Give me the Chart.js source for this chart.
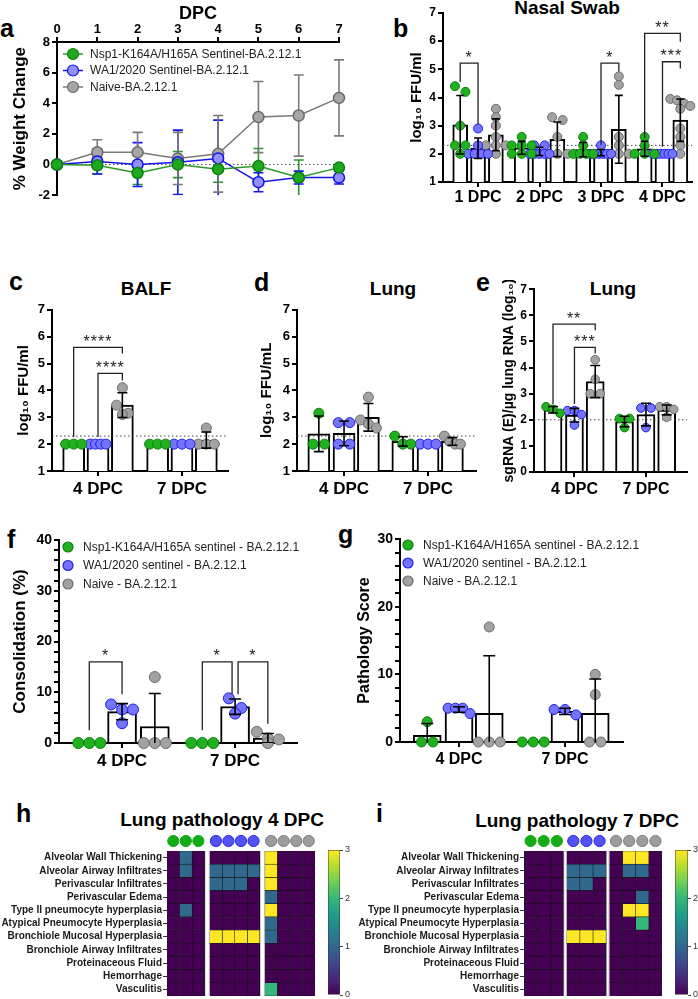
<!DOCTYPE html>
<html>
<head>
<meta charset="utf-8">
<script src="https://cdn.jsdelivr.net/npm/chart.js@4.4.1/dist/chart.umd.min.js"></script>
<style>
  body { margin: 0; background: #fff; width: 698px; height: 999px; position: relative; overflow: hidden;
         font-family: "Liberation Sans", Arial, Helvetica, sans-serif; }
  canvas { position: absolute; }
  .lab { position: absolute; font-weight: bold; font-size: 25px; line-height: 1; color: #000; }
  .ttl { position: absolute; font-weight: bold; font-size: 19px; line-height: 1; color: #000;
         white-space: nowrap; transform: translateX(-50%); }
</style>
</head>
<body>
<div class="lab" style="left:0px;top:16px">a</div>
<div class="lab" style="left:393px;top:16px">b</div>
<div class="lab" style="left:9px;top:269px">c</div>
<div class="lab" style="left:254px;top:270px">d</div>
<div class="lab" style="left:476px;top:270px">e</div>
<div class="lab" style="left:7px;top:527px">f</div>
<div class="lab" style="left:338px;top:522px">g</div>
<div class="lab" style="left:16px;top:801px">h</div>
<div class="lab" style="left:376px;top:801px">i</div>
<div class="ttl" style="left:567px;top:-2px">Nasal Swab</div>
<div class="ttl" style="left:146px;top:279px">BALF</div>
<div class="ttl" style="left:393px;top:279px">Lung</div>
<div class="ttl" style="left:613px;top:279px">Lung</div>
<div class="ttl" style="left:222px;top:810px">Lung pathology 4 DPC</div>
<div class="ttl" style="left:577px;top:811px">Lung pathology 7 DPC</div>

<script>
// ---- data ----

// a: % weight change, mean and SD per day
const dpcDays = [0, 1, 2, 3, 4, 5, 6, 7];
const weightNsp1 = [0, -0.05, -0.55, 0, -0.3, -0.1, -0.85, -0.2];
const weightNsp1Sd = [0, 0.55, 0.75, 0.85, 0.85, 1.15, 1.15, 0];
const weightWA1 = [0, 0.2, 0.0, 0.15, 0.4, -1.15, -0.85, -0.85];
const weightWA1Sd = [0, 0.82, 1.43, 2.1, 2.5, 0.62, 0.42, 0.42];
const weightNaive = [0, 0.8, 0.8, 0.4, 0.7, 3.1, 3.2, 4.35];
const weightNaiveSd = [0, 0.82, 1.3, 1.7, 2.5, 2.32, 2.65, 2.48];
const namesA = ['Nsp1-K164A/H165A Sentinel-BA.2.12.1', 'WA1/2020 Sentinel-BA.2.12.1', 'Naive-BA.2.12.1'];
const namesFG = ['Nsp1-K164A/H165A sentinel - BA.2.12.1', 'WA1/2020 sentinel - BA.2.12.1', 'Naive - BA.2.12.1'];

// b: nasal swab, log10 FFU/ml, per animal
const nasalLabels = ['1 DPC', '2 DPC', '3 DPC', '4 DPC'];
const nasalNsp1 = [[4.2, 4.4, 3.0, 2.3, 2.3, 2.0], [2.6, 2.3, 2.3, 2.3, 2.0, 2.0, 2.0], [2.6, 2.3, 2.0, 2.0, 2.0, 2.0], [2.6, 2.3, 2.0, 2.0, 2.0]];
const nasalWA1 = [[2.9, 2.3, 2.0, 2.0, 2.0, 2.0], [2.3, 2.3, 2.0, 2.0, 2.0, 2.0, 2.0], [2.3, 2.0, 2.0, 2.0, 2.0, 2.0, 2.0], [2.0, 2.0, 2.0, 2.0, 2.0, 2.0]];
const nasalNaive = [[3.6, 3.3, 3.0, 2.6, 2.3, 2.3, 2.3, 2.0], [3.3, 3.2, 2.6, 2.0, 2.0, 2.0], [4.75, 4.45, 2.6, 2.3, 2.0, 2.0, 2.0], [3.95, 3.9, 3.8, 3.7, 3.6, 2.9, 2.6, 2.3, 2.0]];
const nasalLimit = 2.3;

// c, d, e: 4 and 7 DPC
const dpcLabels = ['4 DPC', '7 DPC'];
const balfNsp1 = [[2, 2, 2], [2, 2, 2]];
const balfWA1 = [[2, 2, 2, 2], [2, 2, 2]];
const balfNaive = [[4.1, 3.45, 3.1, 3.15], [2.6, 2.0, 2.0, 2.0]];
const lungNsp1 = [[3.15, 2, 2], [2.3, 2, 2]];
const lungWA1 = [[2.8, 2.8, 2, 2], [2, 2, 2]];
const lungNaive = [[3.75, 2.9, 2.6, 2.75], [2.3, 2.1, 2, 2]];
const sgNsp1 = [[2.25, 2.5, 2.4], [2.05, 2.05, 1.7]];
const sgWA1 = [[2.35, 2.35, 2.2, 1.8], [2.45, 2.45, 1.7]];
const sgNaive = [[4.3, 3.55, 3.0, 3.0], [2.5, 2.5, 2.4, 2.1]];

// f, g
const consNsp1 = [[0, 0, 0], [0, 0, 0]];
const consWA1 = [[7.6, 6.6, 6.6, 3.9], [8.8, 6.9, 5.8]];
const consNaive = [[13, 0, 0, 0], [2.2, 0.9, 0.7, 0]];
const pathNsp1 = [[3, 0, 0], [0, 0, 0]];
const pathWA1 = [[4.2, 5, 5, 5], [4, 4.8, 4.8]];
const pathNaive = [[17, 0, 0, 0], [10, 7, 0, 0]];

// significance brackets (group, from series, to series, bracket top, leg ends)
const nasalSig = [
  { g: 1, from: 0, to: 1, top: 5.22, y1: 4.55, y2: 3.05, text: '*' },
  { g: 3, from: 1, to: 2, top: 5.22, y1: 2.32, y2: 4.92, text: '*' },
  { g: 4, from: 0, to: 2, top: 6.28, y1: 2.55, y2: 5.98, text: '**' },
  { g: 4, from: 1, to: 2, top: 5.27, y1: 2.25, y2: 5.03, text: '***' }
];
const balfSig = [
  { g: 1, from: 0, to: 2, top: 5.6, y1: 2.27, y2: 5.37, text: '****' },
  { g: 1, from: 1, to: 2, top: 4.63, y1: 2.27, y2: 4.37, text: '****' }
];
const sgSig = [
  { g: 1, from: 0, to: 2, top: 5.66, y1: 2.6, y2: 5.43, text: '**' },
  { g: 1, from: 1, to: 2, top: 4.77, y1: 2.6, y2: 4.54, text: '***' }
];
const consSig = [
  { g: 1, from: 0, to: 1, top: 16, y1: 2.5, y2: 9.6, text: '*' },
  { g: 2, from: 0, to: 1, top: 16, y1: 2.5, y2: 9.6, text: '*', dx2: -3 },
  { g: 2, from: 1, to: 2, top: 16, y1: 9.6, y2: 3.8, text: '*', dx1: 3 }
];

// h, i: pathology scores (rows x animals)
const pathRows = ['Alveolar Wall Thickening', 'Alveolar Airway Infiltrates', 'Perivascular Infiltrates',
  'Perivascular Edema', 'Type II pneumocyte hyperplasia', 'Atypical Pneumocyte Hyperplasia',
  'Bronchiole Mucosal Hyperplasia', 'Bronchiole Airway Infiltrates', 'Proteinaceous Fluid', 'Hemorrhage', 'Vasculitis'];
const groupsH = [3, 4, 4];
const scoresH = [
  [0, 1, 0, 0, 0, 0, 0, 3, 0, 0, 0],
  [0, 1, 0, 1, 1, 1, 1, 3, 0, 0, 0],
  [0, 0, 0, 1, 1, 1, 0, 3, 0, 0, 0],
  [0, 0, 0, 0, 0, 0, 0, 1, 0, 0, 0],
  [0, 1, 0, 0, 0, 0, 0, 3, 0, 0, 0],
  [0, 0, 0, 0, 0, 0, 0, 1, 0, 0, 0],
  [0, 0, 0, 3, 3, 3, 3, 1, 0, 0, 0],
  [0, 0, 0, 0, 0, 0, 0, 0, 0, 0, 0],
  [0, 0, 0, 0, 0, 0, 0, 0, 0, 0, 0],
  [0, 0, 0, 0, 0, 0, 0, 0, 0, 0, 0],
  [0, 0, 0, 0, 0, 0, 0, 2, 0, 0, 0]
];
const groupsI = [3, 3, 4];
const scoresI = [
  [0, 0, 0, 0, 0, 0, 0, 3, 3, 0],
  [0, 0, 0, 1, 1, 1, 0, 1, 1, 0],
  [0, 0, 0, 1, 1, 0, 0, 0, 0, 0],
  [0, 0, 0, 0, 0, 0, 0, 0, 1, 0],
  [0, 0, 0, 0, 0, 0, 0, 3, 3, 0],
  [0, 0, 0, 0, 0, 0, 0, 0, 2, 0],
  [0, 0, 0, 3, 3, 3, 0, 0, 0, 0],
  [0, 0, 0, 0, 0, 0, 0, 0, 0, 0],
  [0, 0, 0, 0, 0, 0, 0, 0, 0, 0],
  [0, 0, 0, 0, 0, 0, 0, 0, 0, 0],
  [0, 0, 0, 0, 0, 0, 0, 0, 0, 0]
];
const scoreTicks = [0, 1, 2, 3];

// ---- styles ----
const FONT = '"Liberation Sans", Arial, Helvetica, sans-serif';
Chart.defaults.font.family = FONT;
Chart.defaults.color = '#000';
Chart.defaults.animation = false;
Chart.defaults.responsive = false;
Chart.defaults.plugins.legend.display = false;
Chart.defaults.plugins.tooltip.enabled = false;

const dotStyle = [
  { fill: '#20b020', stroke: '#0c820c' },
  { fill: '#7474ff', stroke: '#2020e6' },
  { fill: '#a2a2a2', stroke: '#6c6c6c' }
];
const lineStyle = [
  { line: '#2a982a', fill: '#1ea81e', stroke: '#0f7f0f' },
  { line: '#1414f0', fill: '#9090ff', stroke: '#1010ee' },
  { line: '#7a7a7a', fill: '#a6a6a6', stroke: '#6a6a6a' }
];
const viridisStops = ['#440154', '#482878', '#3e4989', '#31688e', '#26828e', '#1f9e89', '#35b779', '#6ece58', '#b5de2b', '#fde725'];

function hexRgb(h) { return [1, 3, 5].map(i => parseInt(h.slice(i, i + 2), 16)); }
function viridis(t) {
  const p = Math.max(0, Math.min(1, t)) * (viridisStops.length - 1);
  const i = Math.min(Math.floor(p), viridisStops.length - 2), f = p - i;
  const a = hexRgb(viridisStops[i]), b = hexRgb(viridisStops[i + 1]);
  return 'rgb(' + a.map((v, k) => Math.round(v + (b[k] - v) * f)).join(',') + ')';
}

const mean = a => a.reduce((s, v) => s + v, 0) / a.length;
const sdev = a => { const m = mean(a); return Math.sqrt(a.reduce((s, v) => s + (v - m) ** 2, 0) / (a.length - 1)); };

// ---- plugins ----
function drawErrors(chart) {
  const ys = chart.scales.y, ctx = chart.ctx, a = chart.chartArea;
  ctx.save();
  ctx.beginPath();
  ctx.rect(a.left - 10, a.top - 30, a.right - a.left + 20, a.bottom - a.top + 30);
  ctx.clip();
  chart.data.datasets.forEach((ds, i) => {
    if (!ds.errors) return;
    const meta = chart.getDatasetMeta(i);
    ctx.strokeStyle = ds.errorColor || '#000';
    ctx.lineWidth = 1.6;
    meta.data.forEach((el, j) => {
      const e = ds.errors[j];
      if (!e) return;
      const v = ds.data[j].y, w = ds.capWidth || 4;
      const t = ys.getPixelForValue(v + e), b = Math.min(ys.getPixelForValue(v - e), a.bottom);
      ctx.beginPath();
      ctx.moveTo(el.x, t); ctx.lineTo(el.x, b);
      ctx.moveTo(el.x - w, t); ctx.lineTo(el.x + w, t);
      if (b < a.bottom) { ctx.moveTo(el.x - w, b); ctx.lineTo(el.x + w, b); }
      ctx.stroke();
    });
  });
  ctx.restore();
}
Chart.register({
  id: 'errorBars',
  beforeDatasetsDraw(chart, args, opts) { if (opts.under) drawErrors(chart); },
  afterDatasetsDraw(chart, args, opts) { if (!opts.under) drawErrors(chart); }
});

function drawRef(chart, value) {
  const y = chart.scales.y.getPixelForValue(value), a = chart.chartArea, ctx = chart.ctx;
  ctx.save();
  ctx.strokeStyle = '#444'; ctx.lineWidth = 1; ctx.setLineDash([1.5, 2.5]);
  ctx.beginPath(); ctx.moveTo(a.left, y); ctx.lineTo(a.right, y); ctx.stroke();
  ctx.restore();
}
Chart.register({
  id: 'refLine',
  beforeDatasetsDraw(chart, args, opts) {
    if (opts.value !== undefined && opts.afterIndex === undefined) drawRef(chart, opts.value);
  },
  afterDatasetDraw(chart, args, opts) {
    if (opts.value !== undefined && args.index === opts.afterIndex) drawRef(chart, opts.value);
  }
});

Chart.register({
  id: 'brackets',
  afterDatasetsDraw(chart, args, opts) {
    if (!opts.items || !opts.items.length) return;
    const xs = chart.scales.x, ys = chart.scales.y, ctx = chart.ctx, sh = opts.shifts;
    ctx.save();
    ctx.strokeStyle = '#222'; ctx.fillStyle = '#222'; ctx.lineWidth = 1.3;
    ctx.font = '16px ' + FONT; ctx.textAlign = 'center'; ctx.textBaseline = 'middle';
    ctx.letterSpacing = '1px';
    opts.items.forEach(b => {
      const x1 = xs.getPixelForValue(b.g + sh[b.from]) + (b.dx1 || 0);
      const x2 = xs.getPixelForValue(b.g + sh[b.to]) + (b.dx2 || 0);
      const top = ys.getPixelForValue(b.top);
      ctx.beginPath();
      ctx.moveTo(x1, ys.getPixelForValue(b.y1)); ctx.lineTo(x1, top);
      ctx.lineTo(x2, top); ctx.lineTo(x2, ys.getPixelForValue(b.y2));
      ctx.stroke();
      ctx.fillText(b.text, (x1 + x2) / 2, top - 5);
    });
    ctx.restore();
  }
});

Chart.register({
  id: 'dotLegend',
  afterDraw(chart, args, opts) {
    if (!opts.items || !opts.items.length) return;
    const a = chart.chartArea, ctx = chart.ctx;
    ctx.save();
    ctx.font = opts.size + 'px ' + FONT; ctx.textBaseline = 'middle'; ctx.textAlign = 'left';
    opts.items.forEach((it, k) => {
      const cx = a.left + opts.x, cy = a.top + opts.y + k * opts.dy;
      if (opts.line) {
        ctx.strokeStyle = it.line; ctx.lineWidth = 1.5;
        ctx.beginPath(); ctx.moveTo(cx - 10, cy); ctx.lineTo(cx + 10, cy); ctx.stroke();
      }
      ctx.beginPath(); ctx.arc(cx, cy, opts.r, 0, Math.PI * 2);
      ctx.fillStyle = it.fill; ctx.fill();
      ctx.strokeStyle = it.stroke; ctx.lineWidth = 1.2; ctx.stroke();
      ctx.fillStyle = '#222';
      ctx.fillText(it.text, a.left + opts.textX, cy + 0.5);
    });
    ctx.restore();
  }
});

Chart.register({
  id: 'colDots',
  afterDraw(chart) {
    const ctx = chart.ctx;
    chart.data.datasets.forEach((ds, i) => {
      if (!ds.dot) return;
      const el = chart.getDatasetMeta(i).data[0];
      const cx = (el.x + el.base) / 2, cy = chart.chartArea.top - 10;
      ctx.beginPath(); ctx.arc(cx, cy, 5.6, 0, Math.PI * 2);
      ctx.fillStyle = ds.dot.fill; ctx.fill();
      ctx.strokeStyle = ds.dot.stroke; ctx.lineWidth = 1; ctx.stroke();
    });
  }
});

// ---- helpers ----
function mk(left, top, w, h) {
  const c = document.createElement('canvas');
  c.width = w; c.height = h;
  c.style.left = left + 'px'; c.style.top = top + 'px';
  c.style.width = w + 'px'; c.style.height = h + 'px';
  document.body.appendChild(c);
  return c;
}

function axisBase() {
  return {
    grid: { drawOnChartArea: false, color: '#000', lineWidth: 2, tickLength: 5, offset: false },
    border: { color: '#000', width: 2 }
  };
}

// spread points sharing a height into a centred row
function swarm(chart) {
  const xs = chart.scales.x, ys = chart.scales.y;
  const unit = xs.getPixelForValue(1) - xs.getPixelForValue(0);
  chart.data.datasets.forEach(ds => {
    if (!ds.values) return;
    const d = ds.pointRadius * 2 + 1.5;
    const pts = [];
    ds.values.forEach((vals, gi) => {
      const cx = gi + 1 + ds.shift;
      const rows = [];
      [...vals].sort((p, q) => q - p).forEach(v => {
        const row = rows[rows.length - 1];
        if (row && Math.abs(ys.getPixelForValue(row[0]) - ys.getPixelForValue(v)) < d * 0.8) row.push(v);
        else rows.push([v]);
      });
      rows.forEach(row => {
        const step = row.length > 1 ? Math.min(d, ds.spread / (row.length - 1)) : 0;
        row.forEach((v, k) => pts.push({ x: cx + (k - (row.length - 1) / 2) * step / unit, y: v }));
      });
    });
    ds.data = pts;
  });
  chart.update('none');
}

function barPanel(canvas, p) {
  const datasets = [];
  p.series.forEach((vals, si) => {
    datasets.push({
      type: 'bar',
      data: vals.map((v, gi) => ({ x: gi + 1 + p.shifts[si], y: mean(v) })),
      errors: vals.map(sdev), capWidth: p.cap,
      backgroundColor: '#fff', borderColor: '#000', borderWidth: 2,
      barThickness: p.barPx, grouped: false, order: 1
    });
  });
  p.series.forEach((vals, si) => {
    datasets.push({
      type: 'scatter',
      values: vals, shift: p.shifts[si], spread: p.spread,
      data: vals.flatMap((v, gi) => v.map(y => ({ x: gi + 1 + p.shifts[si], y }))),
      backgroundColor: dotStyle[si].fill, borderColor: dotStyle[si].stroke,
      pointRadius: p.r, pointBorderWidth: 1, order: 0, clip: false
    });
  });
  const xAxis = axisBase(), yAxis = axisBase();
  Object.assign(xAxis, {
    type: 'linear', offset: false, min: p.xMin, max: p.xMax,
    afterFit: s => { s.height = p.xH; },
    afterBuildTicks: s => { s.ticks = p.groups.map((g, i) => ({ value: i + 1 })); },
    ticks: { autoSkip: false, maxRotation: 0, padding: p.xPad, font: { size: p.xFont, weight: 'bold' },
             callback: v => p.groups[v - 1] }
  });
  Object.assign(yAxis, {
    min: p.yMin, max: p.yMax,
    afterFit: s => { s.width = p.yW; },
    ticks: { stepSize: p.step, autoSkip: false, maxTicksLimit: 60, padding: 2,
             font: { size: p.yFont, weight: 'bold' },
             callback: p.major ? (v => (v % p.major === 0 ? v : '')) : (v => v) },
    title: { display: true, text: p.yTitle, font: { size: p.tFont, weight: 'bold' }, padding: { top: p.tPad, bottom: 0 } }
  });
  const chart = new Chart(canvas, {
    type: 'bar',
    data: { datasets },
    options: {
      layout: { padding: p.pad, autoPadding: false },
      scales: { x: xAxis, y: yAxis },
      plugins: {
        errorBars: {},
        brackets: { items: p.sig || [], shifts: p.shifts },
        refLine: p.limit !== undefined ? { value: p.limit, afterIndex: 0 } : {},
        dotLegend: p.legend || {}
      }
    }
  });
  swarm(chart);
  return chart;
}

function heatPanel(canvas, scores, groups, gap, p) {
  const groupDot = [
    { fill: '#14ac14', stroke: '#14ac14' },
    { fill: '#5252f6', stroke: '#2a2ae0' },
    { fill: '#9c9c9c', stroke: '#7c7c7c' }
  ];
  const datasets = [];
  let col = 0;
  groups.forEach((n, gi) => {
    if (gi > 0) {
      datasets.push({
        data: pathRows.map(() => gap), backgroundColor: '#fff', borderColor: '#b8b8b8',
        borderWidth: { left: 1.2, right: 1.2, top: 0, bottom: 0 }, borderSkipped: false
      });
    }
    for (let k = 0; k < n; k++, col++) {
      const c = col;
      datasets.push({
        data: pathRows.map(() => 1),
        backgroundColor: scores.map(r => viridis(r[c] / scoreTicks[scoreTicks.length - 1])),
        borderColor: '#141414', borderWidth: 0.6, borderSkipped: false, dot: groupDot[gi]
      });
    }
  });
  const total = col + gap * (groups.length - 1);
  new Chart(canvas, {
    type: 'bar',
    data: { labels: pathRows, datasets },
    options: {
      indexAxis: 'y',
      layout: { padding: p.pad, autoPadding: false },
      datasets: { bar: { barPercentage: 1, categoryPercentage: 1 } },
      scales: {
        x: { stacked: true, display: false, min: 0, max: total },
        y: {
          stacked: true,
          afterFit: s => { s.width = p.yW; },
          ticks: { autoSkip: false, padding: 1, color: '#1a1a1a', font: { size: 10, weight: 'bold', lineHeight: 1 } },
          grid: { drawOnChartArea: false, offset: false, tickLength: 4, color: '#333', lineWidth: 1 },
          border: { display: false }
        }
      }
    }
  });
}

function colorBar(canvas, p) {
  const top = scoreTicks[scoreTicks.length - 1];
  new Chart(canvas, {
    type: 'bar',
    data: {
      labels: [''],
      datasets: [{
        data: [top],
        backgroundColor: ctx => {
          const ca = ctx.chart.chartArea;
          if (!ca) return viridisStops[0];
          const g = ctx.chart.ctx.createLinearGradient(0, ca.bottom, 0, ca.top);
          viridisStops.forEach((c, i) => g.addColorStop(i / (viridisStops.length - 1), c));
          return g;
        },
        borderColor: '#333', borderWidth: 0.8, borderSkipped: false,
        barPercentage: 1, categoryPercentage: 1
      }]
    },
    options: {
      layout: { padding: p.pad, autoPadding: false },
      scales: {
        x: { display: false },
        y: {
          position: 'right', min: scoreTicks[0], max: top,
          afterFit: s => { s.width = p.yW; },
          afterBuildTicks: s => { s.ticks = scoreTicks.map(v => ({ value: v })); },
          ticks: { padding: 2, color: '#333', font: { size: 9, lineHeight: 1 } },
          grid: { drawOnChartArea: false, tickLength: 3, color: '#444', lineWidth: 1 },
          border: { display: false }
        }
      }
    }
  });
}

// ---- a: weight change ----
const weightSeries = [
  { mean: weightNsp1, sd: weightNsp1Sd },
  { mean: weightWA1, sd: weightWA1Sd },
  { mean: weightNaive, sd: weightNaiveSd }
];
const axA = axisBase(), ayA = axisBase();
Object.assign(axA, {
  type: 'linear', position: 'top', min: dpcDays[0], max: dpcDays[dpcDays.length - 1],
  afterFit: s => { s.height = 42; },
  ticks: { stepSize: 1, padding: 0, font: { size: 13, weight: 'bold' } },
  title: { display: true, text: 'DPC', font: { size: 18, weight: 'bold' }, padding: { top: 3, bottom: 0 } }
});
Object.assign(ayA, {
  min: -2, max: 8,
  afterFit: s => { s.width = 57; },
  ticks: { stepSize: 2, padding: 2, font: { size: 13, weight: 'bold' } },
  title: { display: true, text: '% Weight Change', font: { size: 17, weight: 'bold' }, padding: { top: 10, bottom: 0 } }
});
new Chart(mk(0, 0, 350, 205), {
  type: 'line',
  data: {
    datasets: weightSeries.map((s, i) => ({
      label: namesA[i],
      data: dpcDays.map((d, k) => ({ x: d, y: s.mean[k] })),
      errors: s.sd, errorColor: lineStyle[i].line, capWidth: 5,
      borderColor: lineStyle[i].line, borderWidth: 1.5, tension: 0,
      pointRadius: 5.5, pointBackgroundColor: lineStyle[i].fill,
      pointBorderColor: lineStyle[i].stroke, pointBorderWidth: 1.5, clip: false
    }))
  },
  options: {
    layout: { padding: { left: 0, top: 0, right: 11, bottom: 7 }, autoPadding: false },
    scales: { x: axA, y: ayA },
    plugins: {
      errorBars: { under: true },
      refLine: { value: 0 },
      dotLegend: {
        x: 16, y: 12, dy: 16.5, r: 5.5, size: 12, textX: 33, line: true,
        items: namesA.map((t, i) => ({ text: t, fill: lineStyle[i].fill, stroke: lineStyle[i].stroke, line: lineStyle[i].line }))
      }
    }
  }
});

// ---- b: nasal swab ----
barPanel(mk(360, 0, 338, 210), {
  series: [nasalNsp1, nasalWA1, nasalNaive], groups: nasalLabels,
  shifts: [-0.29, 0, 0.29], barPx: 15, cap: 4, r: 4.5, spread: 20,
  xMin: 0.43, xMax: 4.48, xH: 28, xPad: 1, xFont: 16,
  yMin: 1, yMax: 7, step: 1, yW: 83, yFont: 12,
  yTitle: 'log\u2081\u2080 FFU/ml', tFont: 15, tPad: 48,
  pad: { left: 0, top: 13, right: 6, bottom: 0 },
  limit: nasalLimit, sig: nasalSig
});

// ---- c: BALF ----
barPanel(mk(0, 300, 235, 200), {
  series: [balfNsp1, balfWA1, balfNaive], groups: dpcLabels,
  shifts: [-0.29, 0, 0.29], barPx: 22, cap: 5, r: 5, spread: 16,
  xMin: 0.452, xMax: 2.548, xH: 29, xPad: 3, xFont: 17,
  yMin: 1, yMax: 7, step: 1, yW: 52, yFont: 13,
  yTitle: 'log\u2081\u2080 FFU/ml', tFont: 15, tPad: 15,
  pad: { left: 0, top: 9, right: 7, bottom: 0 },
  limit: 2.3, sig: balfSig
});

// ---- d: lung titre ----
barPanel(mk(240, 300, 240, 200), {
  series: [lungNsp1, lungWA1, lungNaive], groups: dpcLabels,
  shifts: [-0.3, 0, 0.29], barPx: 22, cap: 5, r: 5, spread: 16,
  xMin: 0.44, xMax: 2.571, xH: 29, xPad: 3, xFont: 17,
  yMin: 1, yMax: 7, step: 1, yW: 57, yFont: 13,
  yTitle: 'log\u2081\u2080 FFU/mL', tFont: 15, tPad: 18,
  pad: { left: 0, top: 8, right: 4, bottom: 0 },
  limit: 2.3
});

// ---- e: lung sgRNA ----
barPanel(mk(470, 280, 228, 220), {
  series: [sgNsp1, sgWA1, sgNaive], groups: dpcLabels,
  shifts: [-0.3, 0, 0.29], barPx: 18, cap: 5, r: 4.3, spread: 14,
  xMin: 0.434, xMax: 2.574, xH: 28, xPad: 3, xFont: 16,
  yMin: 0, yMax: 7, step: 1, yW: 64, yFont: 12,
  yTitle: 'sgRNA (E)/\u00b5g lung RNA (log\u2081\u2080)', tFont: 14, tPad: 31,
  pad: { left: 0, top: 9, right: 11, bottom: 0 },
  limit: 2, sig: sgSig
});

// ---- f: consolidation ----
barPanel(mk(0, 525, 330, 246), {
  series: [consNsp1, consWA1, consNaive], groups: dpcLabels,
  shifts: [-0.29, 0, 0.29], barPx: 29, cap: 6, r: 5.5, spread: 22,
  xMin: 0.442, xMax: 2.548, xH: 28, xPad: 3, xFont: 17,
  yMin: 0, yMax: 40, step: 2, major: 10, yW: 59, yFont: 14,
  yTitle: 'Consolidation (%)', tFont: 17, tPad: 10,
  pad: { left: 0, top: 15, right: 33, bottom: 0 },
  sig: consSig,
  legend: {
    x: 9, y: 7, dy: 18.5, r: 5, size: 12, textX: 24,
    items: namesFG.map((t, i) => ({ text: t, fill: dotStyle[i].fill, stroke: dotStyle[i].stroke }))
  }
});

// ---- g: pathology score ----
barPanel(mk(350, 525, 310, 245), {
  series: [pathNsp1, pathWA1, pathNaive], groups: dpcLabels,
  shifts: [-0.3, 0, 0.285], barPx: 28, cap: 6, r: 5, spread: 22,
  xMin: 0.443, xMax: 2.547, xH: 28, xPad: 3, xFont: 16,
  yMin: 0, yMax: 30, step: 2, major: 10, yW: 50, yFont: 14,
  yTitle: 'Pathology Score', tFont: 16, tPad: 5,
  pad: { left: 0, top: 14, right: 37, bottom: 0 },
  legend: {
    x: 8, y: 6, dy: 18, r: 5, size: 12, textX: 23,
    items: namesFG.map((t, i) => ({ text: t, fill: dotStyle[i].fill, stroke: dotStyle[i].stroke }))
  }
});

// ---- h, i: heatmaps ----
heatPanel(mk(0, 828, 320, 178), scoresH, groupsH, 0.4, { yW: 167, pad: { left: 0, top: 23, right: 5, bottom: 10 } });
colorBar(mk(322, 843, 40, 159), { yW: 22, pad: { left: 6, top: 7, right: 0, bottom: 7 } });
heatPanel(mk(350, 828, 318, 178), scoresI, groupsI, 0.25, { yW: 174, pad: { left: 0, top: 23, right: 6, bottom: 10 } });
colorBar(mk(668, 843, 30, 159), { yW: 10, pad: { left: 7, top: 7, right: 0, bottom: 7 } });
</script>
</body>
</html>
